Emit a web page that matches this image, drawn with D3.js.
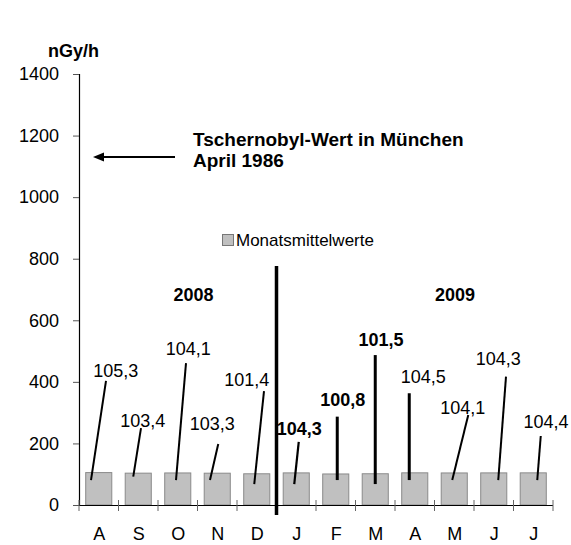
<!DOCTYPE html>
<html>
<head>
<meta charset="utf-8">
<script src="https://cdn.jsdelivr.net/npm/d3@7"></script>
<style>
  html, body { margin: 0; padding: 0; background: #fff; }
  svg { display: block; }
  text { font-family: "Liberation Sans", Arial, Helvetica, sans-serif; fill: #000; }
</style>
</head>
<body>
<svg id="chart" width="571" height="545"></svg>
<script>
// ---- data ----
const months = ["A", "S", "O", "N", "D", "J", "F", "M", "A", "M", "J", "J"];
const values = [105.3, 103.4, 104.1, 103.3, 101.4, 104.3, 100.8, 101.5, 104.5, 104.1, 104.3, 104.4];
const valueLabels = ["105,3", "103,4", "104,1", "103,3", "101,4", "104,3", "100,8", "101,5", "104,5", "104,1", "104,3", "104,4"];
const boldLabel = [false, false, false, false, false, true, true, true, false, false, false, false];
const yTicks = [0, 200, 400, 600, 800, 1000, 1200, 1400];
const years = ["2008", "2009"];
const unitLabel = "nGy/h";
const legendLabel = "Monatsmittelwerte";
const noteLines = ["Tschernobyl-Wert in München", "April 1986"];

// ---- callout layout (x offsets in px from band centre, y in data units) ----
const callouts = [
  { ldx: 17,   ly: 416, bdx: -7.75, by: 81, tdx: 7.25, ty: 403, w: 2 },
  { ldx: 4.5,  ly: 253, bdx: -5,    by: 92, tdx: 2.75, ty: 250, w: 2 },
  { ldx: 10.5, ly: 487, bdx: -1.75, by: 81, tdx: 8.25, ty: 461, w: 2 },
  { ldx: -5,   ly: 244, bdx: -7.25, by: 81, tdx: 1,    ty: 198, w: 2 },
  { ldx: -10,  ly: 388, bdx: -2.5,  by: 68, tdx: 7.25, ty: 370, w: 2 },
  { ldx: 3,    ly: 227, bdx: -2,    by: 68, tdx: 2.5,  ty: 205, w: 2.2 },
  { ldx: 7,    ly: 322, bdx: 1.5,   by: 81, tdx: 1.5,  ty: 287, w: 3 },
  { ldx: 5.75, ly: 516, bdx: 0,     by: 68, tdx: 0,    ty: 487, w: 3 },
  { ldx: 8.5,  ly: 397, bdx: -5.5,  by: 81, tdx: -5.5, ty: 363, w: 3 },
  { ldx: 8.5,  ly: 295, bdx: -2,    by: 81, tdx: 14,   ty: 292, w: 2 },
  { ldx: 4.5,  ly: 455, bdx: 4.5,   by: 81, tdx: 12.25,ty: 417, w: 2 },
  { ldx: 12.75,ly: 249, bdx: 4,     by: 81, tdx: 7.5,  ty: 224, w: 2 }
];

const svg = d3.select("#chart");
const plotLeft = 79, plotRight = 553, plotTop = 74, plotBottom = 505;

const x = d3.scaleBand().domain(d3.range(months.length)).range([plotLeft, plotRight])
  .paddingInner(0.34).paddingOuter(0.17);
const xb = d3.scaleBand().domain(d3.range(months.length)).range([plotLeft, plotRight]).padding(0);
const y = d3.scaleLinear().domain([0, 1400]).range([plotBottom, plotTop]);
const cx = i => x(i) + x.bandwidth() / 2;

// ---- y axis ----
const yAxis = svg.append("g").attr("transform", `translate(${plotLeft},0)`)
  .call(d3.axisLeft(y).tickValues(yTicks).tickSize(6).tickPadding(14).tickFormat(d3.format("d")));
yAxis.select(".domain").attr("stroke", "#000").attr("stroke-width", 1.2);
yAxis.selectAll(".tick line").attr("stroke", "#555");
yAxis.selectAll(".tick text").attr("font-size", 18).attr("fill", "#000")
  .attr("font-family", "Liberation Sans, Arial, sans-serif");

svg.append("text").attr("x", 73.5).attr("y", 57).attr("text-anchor", "middle")
  .attr("font-size", 18).attr("font-weight", "bold").text(unitLabel);

// ---- bars ----
svg.append("g").selectAll("rect").data(values).join("rect")
  .attr("x", (d, i) => x(i)).attr("width", x.bandwidth())
  .attr("y", d => y(d)).attr("height", d => y(0) - y(d))
  .attr("fill", "#c0c0c0").attr("stroke", "#8a8a8a").attr("stroke-width", 1);

// ---- x axis ----
svg.append("line").attr("x1", plotLeft).attr("x2", plotRight).attr("y1", plotBottom + 0.5).attr("y2", plotBottom + 0.5)
  .attr("stroke", "#000").attr("stroke-width", 1.2);
svg.append("g").selectAll("line").data(d3.range(months.length + 1)).join("line")
  .attr("x1", i => i < months.length ? xb(i) : plotRight)
  .attr("x2", i => i < months.length ? xb(i) : plotRight)
  .attr("y1", plotBottom - 5).attr("y2", plotBottom + 6)
  .attr("stroke", "#666").attr("stroke-width", 1);
svg.append("g").selectAll("text").data(months).join("text")
  .attr("x", (d, i) => cx(i) + 0.5).attr("y", 540).attr("text-anchor", "middle")
  .attr("font-size", 18).text(d => d);

// ---- divider between years ----
const divX = (x(4) + x.bandwidth() + x(5)) / 2;
svg.append("line").attr("x1", divX).attr("x2", divX).attr("y1", 266).attr("y2", 515)
  .attr("stroke", "#000").attr("stroke-width", 3.5);

// ---- year labels ----
svg.append("text").attr("x", 193.5).attr("y", 301).attr("text-anchor", "middle")
  .attr("font-size", 18).attr("font-weight", "bold").text(years[0]);
svg.append("text").attr("x", 455).attr("y", 301).attr("text-anchor", "middle")
  .attr("font-size", 18).attr("font-weight", "bold").text(years[1]);

// ---- callouts ----
const cg = svg.append("g");
callouts.forEach((c, i) => {
  cg.append("line")
    .attr("x1", cx(i) + c.bdx).attr("y1", y(c.by))
    .attr("x2", cx(i) + c.tdx).attr("y2", y(c.ty))
    .attr("stroke", "#000").attr("stroke-width", c.w);
  cg.append("text")
    .attr("x", cx(i) + c.ldx).attr("y", y(c.ly)).attr("text-anchor", "middle")
    .attr("font-size", 18).attr("font-weight", boldLabel[i] ? "bold" : "normal")
    .text(valueLabels[i]);
});

// ---- legend ----
svg.append("rect").attr("x", 222.5).attr("y", 234.5).attr("width", 11).attr("height", 11)
  .attr("fill", "#c0c0c0").attr("stroke", "#777").attr("stroke-width", 1);
svg.append("text").attr("x", 236).attr("y", 245.5).attr("font-size", 17).text(legendLabel);

// ---- Chernobyl note with arrow ----
svg.append("text").attr("x", 193).attr("y", 146).attr("font-size", 19)
  .attr("font-weight", "bold").text(noteLines[0]);
svg.append("text").attr("x", 193).attr("y", 167).attr("font-size", 19)
  .attr("font-weight", "bold").text(noteLines[1]);
svg.append("line").attr("x1", 175).attr("x2", 102).attr("y1", 157).attr("y2", 157)
  .attr("stroke", "#000").attr("stroke-width", 2);
svg.append("path").attr("d", "M93,157 L104,152.5 L104,161.5 Z").attr("fill", "#000");
</script>
</body>
</html>
